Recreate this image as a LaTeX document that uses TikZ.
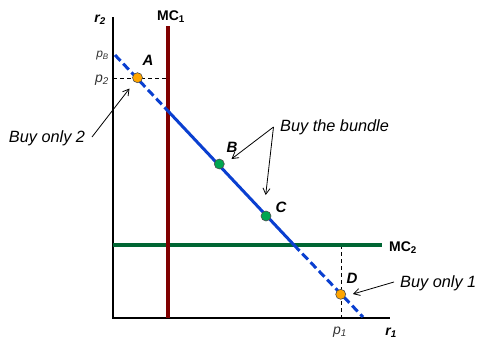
\documentclass[tikz,border=0pt]{standalone}
\usepackage{fontspec}
\setmainfont{Liberation Sans}
\usetikzlibrary{arrows.meta}
\definecolor{mcred}{HTML}{800000}
\definecolor{mcgreen}{HTML}{006633}
\definecolor{budblue}{HTML}{0A3FD0}
\definecolor{dotorange}{HTML}{FFA500}
\definecolor{dotgreen}{HTML}{00A651}
\tikzset{
  axisline/.style={line width=2pt, black},
  mcone/.style={line width=3.8pt, mcred},
  mctwo/.style={line width=3.3pt, mcgreen},
  budget/.style={line width=3pt, budblue},
  budgetdash/.style={budget, dash pattern=on 8pt off 4pt},
  guide/.style={line width=0.8pt, black, dash pattern=on 4pt off 3pt},
  dot/.style={circle, draw=black!70, line width=0.6pt, minimum size=10pt, inner sep=0pt},
  callout/.style={line width=0.8pt, black, -{Straight Barb[length=6pt,width=7pt]}},
  note/.style={font=\fontsize{16.3}{18}\selectfont\itshape, inner sep=0pt},
  ptlabel/.style={font=\fontsize{15}{17}\selectfont\bfseries\itshape, inner sep=0pt},
  axlabel/.style={font=\fontsize{14}{16}\selectfont\bfseries\itshape, inner sep=0pt},
  mclabel/.style={font=\fontsize{14}{16}\selectfont\bfseries, inner sep=0pt},
  pricelabel/.style={font=\fontsize{14}{16}\selectfont\itshape, inner sep=0pt, text=black!80}
}
\begin{document}
\begin{tikzpicture}[x=1pt,y=-1pt]
\useasboundingbox (0,0) rectangle (477,341);
% axes
\coordinate (O) at (113,318);
\coordinate (ytop) at (113,17);
\coordinate (xend) at (390,318);
\draw[axisline] (ytop) -- (O) -- (xend);
% MC lines
\coordinate (mc1top) at (168,26);
\coordinate (mc1bot) at (168,318);
\coordinate (mc2l) at (113,245);
\coordinate (mc2r) at (382,245);
% budget line
\coordinate (bs) at (115,55);
\coordinate (be) at (363,317);
\coordinate (b1) at (168,111);
\coordinate (b2) at (294,245);
% guides
\coordinate (p2l) at (113,78);
\coordinate (p2r) at (168,78);
\coordinate (p1t) at (341,245);
\coordinate (p1b) at (341,318);
\draw[guide] (p2l) -- (p2r);
\draw[guide] (p1t) -- (p1b);
\draw[mctwo] (mc2l) -- (mc2r);
\draw[mcone] (mc1top) -- (mc1bot);
\draw[budgetdash] (bs) -- (b1);
\draw[budget] (b1) -- (b2);
\draw[budgetdash] (b2) -- (be);
% dots
\node[dot, fill=dotorange] (A) at (137.5,77.7) {};
\node[dot, fill=dotgreen] (B) at (219.3,164) {};
\node[dot, fill=dotgreen] (C) at (266,216) {};
\node[dot, fill=dotorange] (D) at (340.7,294.3) {};
% labels
\node[axlabel] (r2) at (100,20) {r\textsubscript{2}};
\node[axlabel] (r1) at (391,333) {r\textsubscript{1}};
\node[mclabel] (MC1) at (171,17) {MC\textsubscript{1}};
\node[mclabel, anchor=west] (MC2) at (389,248) {MC\textsubscript{2}};
\node[pricelabel, anchor=east, font=\fontsize{12}{14}\selectfont\itshape] (pB) at (109,56) {p\textsubscript{B}};
\node[pricelabel, anchor=east] (p2) at (109,80) {p\textsubscript{2}};
\node[pricelabel] (p1) at (340,332) {p\textsubscript{1}};
\node[ptlabel] (lA) at (148,60) {A};
\node[ptlabel] (lB) at (232,147) {B};
\node[ptlabel] (lC) at (281,207) {C};
\node[ptlabel] (lD) at (352,278) {D};
% notes
\node[note] (only2) at (47,138) {Buy only 2};
\node[note, anchor=west] (bundle) at (280,127) {Buy the bundle};
\node[note, anchor=west] (only1) at (400,283) {Buy only 1};
\coordinate (o2s) at (92,137);
\coordinate (o2e) at (129.5,88.5);
\coordinate (bus) at (273.5,127);
\coordinate (buB) at (231.5,159);
\coordinate (buC) at (265.7,195);
\coordinate (o1s) at (394,282);
\coordinate (o1e) at (353,294);
\draw[callout] (o2s) -- (o2e);
\draw[callout] (bus) -- (buB);
\draw[callout] (bus) -- (buC);
\draw[callout] (o1s) -- (o1e);
\end{tikzpicture}
\end{document}
